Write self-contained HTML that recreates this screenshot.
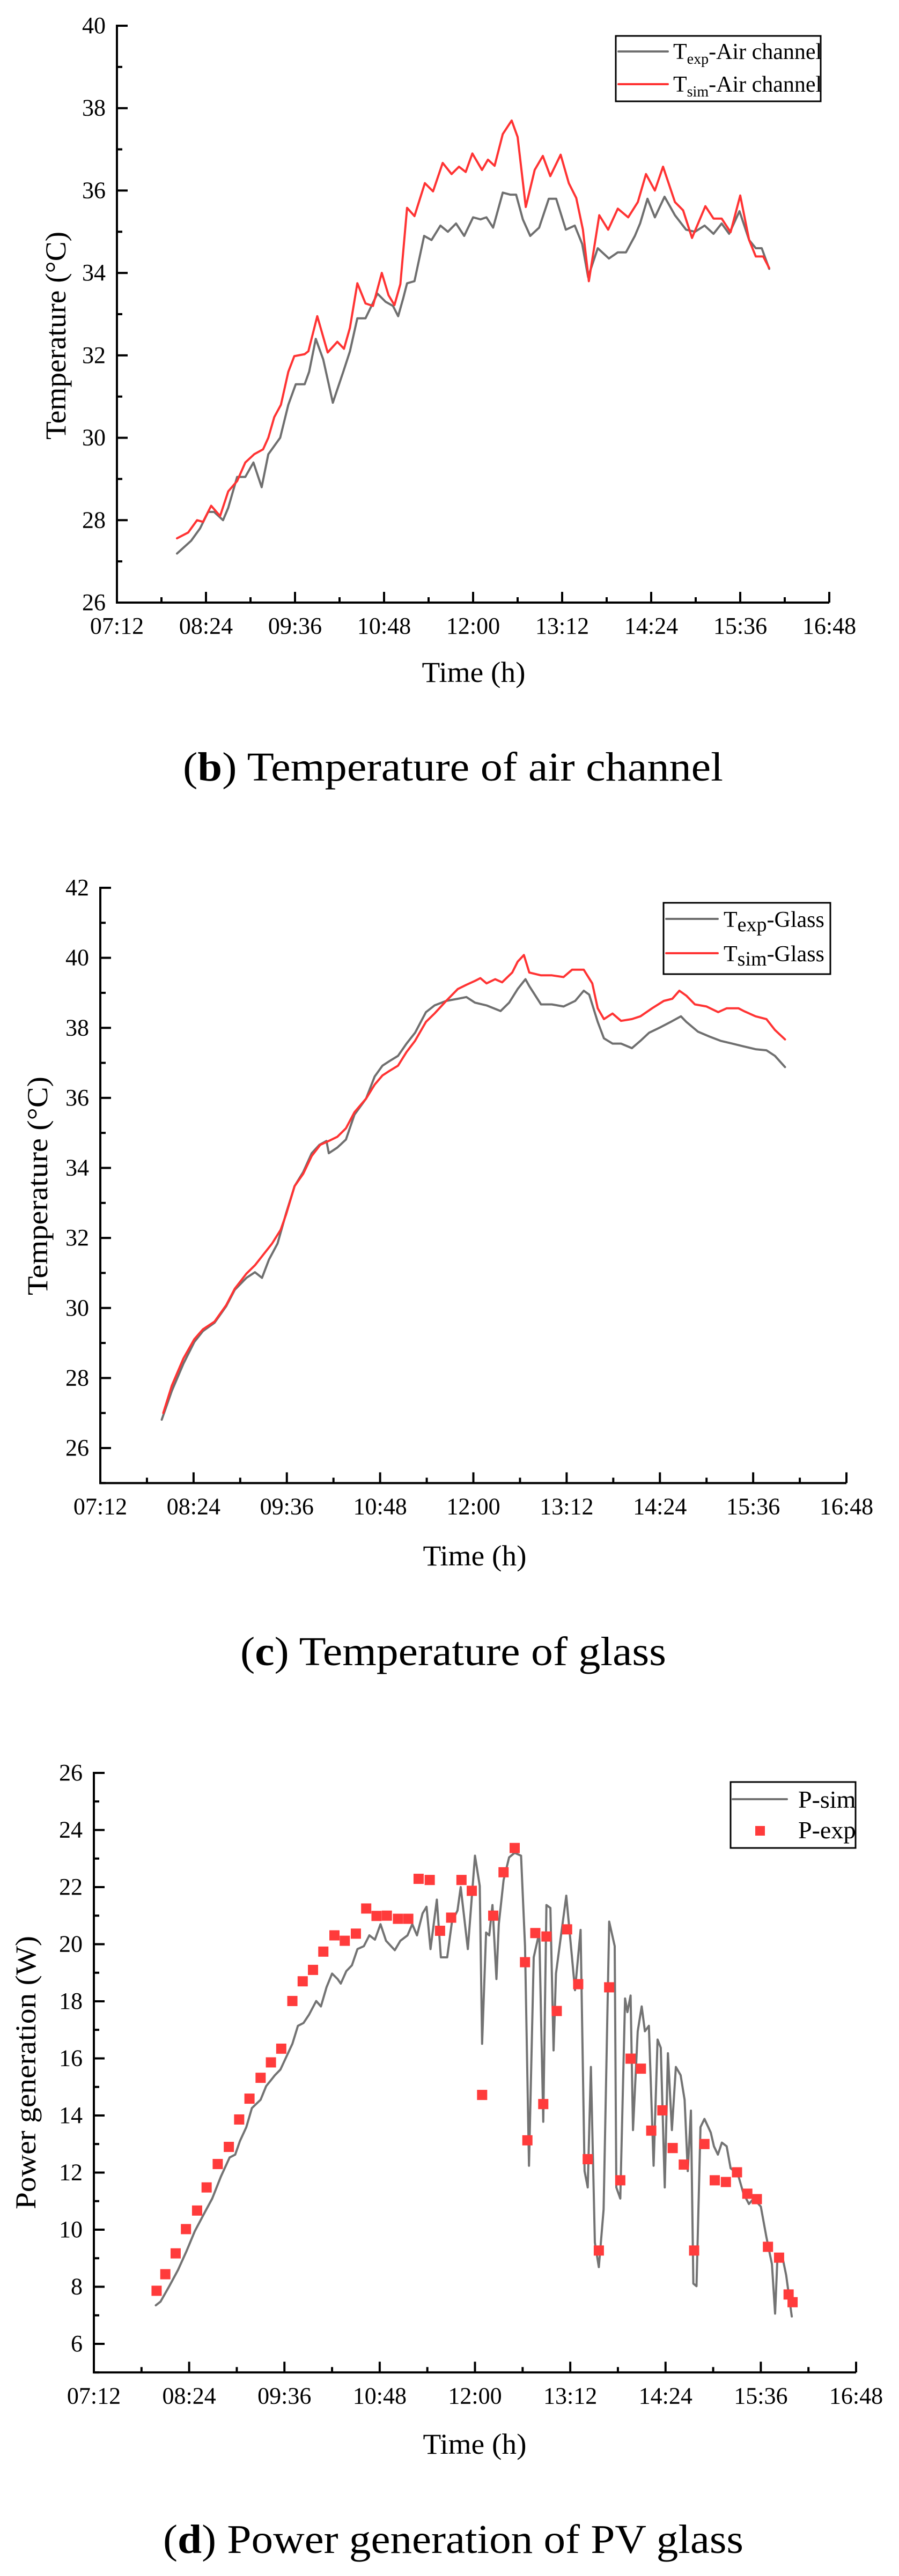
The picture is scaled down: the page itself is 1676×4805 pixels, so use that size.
<!DOCTYPE html>
<html><head><meta charset="utf-8"><style>
html,body{margin:0;padding:0;background:#fff;}
svg{display:block;font-family:"Liberation Serif","Times New Roman",serif;}
</style></head><body>
<svg id="fig" xmlns="http://www.w3.org/2000/svg" width="1676" height="4805" viewBox="0 0 1676 4805">
<rect width="1676" height="4805" fill="#fff"/>
</svg>
<script>
// ---- Chart (b) air channel ----
const airTimes = [8.01,8.20,8.32,8.43,8.51,8.63,8.70,8.82,8.93,9.04,9.15,9.24,9.40,9.51,9.61,9.73,9.79,9.88,9.98,10.11,10.25,10.34,10.44,10.55,10.71,10.82,10.92,10.99,11.06,11.11,11.21,11.34,11.44,11.56,11.66,11.77,11.88,12.00,12.10,12.18,12.27,12.40,12.50,12.58,12.67,12.77,12.89,13.02,13.12,13.25,13.37,13.47,13.55,13.68,13.83,13.95,14.06,14.18,14.25,14.35,14.45,14.58,14.72,14.87,14.99,15.12,15.24,15.35,15.45,15.59,15.72,15.81,15.89,15.99];
const airExp = [27.19,27.5,27.8,28.2,28.2,28.0,28.3,29.05,29.05,29.4,28.8,29.6,30.0,30.8,31.3,31.3,31.6,32.4,31.9,30.85,31.6,32.1,32.9,32.9,33.5,33.3,33.2,32.95,33.4,33.75,33.8,34.9,34.8,35.15,35.0,35.2,34.9,35.35,35.3,35.35,35.1,35.95,35.9,35.9,35.3,34.9,35.1,35.8,35.8,35.05,35.15,34.7,33.9,34.6,34.35,34.5,34.5,34.9,35.2,35.8,35.35,35.85,35.4,35.05,35.0,35.15,34.95,35.2,34.95,35.5,34.8,34.6,34.6,34.1];
const airSimTimes = [8.01,8.16,8.28,8.36,8.47,8.59,8.70,8.82,8.93,9.05,9.17,9.24,9.32,9.41,9.51,9.59,9.73,9.78,9.90,10.04,10.17,10.26,10.34,10.44,10.55,10.65,10.77,10.86,10.94,11.02,11.11,11.21,11.35,11.46,11.59,11.71,11.81,11.90,11.99,12.12,12.20,12.29,12.40,12.52,12.60,12.71,12.83,12.94,13.04,13.18,13.29,13.39,13.48,13.56,13.70,13.82,13.95,14.09,14.22,14.33,14.45,14.56,14.72,14.83,14.95,15.13,15.24,15.35,15.47,15.60,15.72,15.81,15.91,15.99];
const airSim = [27.56,27.7,28.0,27.96,28.35,28.1,28.7,28.95,29.4,29.6,29.72,30.0,30.5,30.8,31.6,31.98,32.03,32.1,32.95,32.07,32.33,32.16,32.67,33.75,33.26,33.2,34.0,33.46,33.22,33.73,35.58,35.38,36.18,35.98,36.67,36.4,36.58,36.45,36.9,36.5,36.75,36.6,37.37,37.7,37.3,35.6,36.5,36.84,36.35,36.87,36.18,35.82,35.05,33.8,35.4,35.05,35.56,35.35,35.72,36.4,36.0,36.58,35.72,35.52,34.85,35.62,35.32,35.32,34.99,35.88,34.8,34.4,34.4,34.12];

// ---- Chart (c) glass ----
const glassExpTimes = [7.99,8.12,8.27,8.41,8.52,8.67,8.82,8.93,9.08,9.19,9.28,9.37,9.48,9.59,9.70,9.81,9.92,10.02,10.11,10.14,10.25,10.36,10.47,10.62,10.73,10.83,10.92,11.03,11.14,11.25,11.39,11.50,11.65,11.80,11.91,12.02,12.17,12.35,12.46,12.57,12.67,12.72,12.87,13.01,13.16,13.31,13.42,13.49,13.60,13.68,13.79,13.90,14.04,14.15,14.26,14.41,14.54,14.67,14.74,14.89,15.04,15.18,15.33,15.48,15.63,15.77,15.88,16.01];
const glassExp = [26.81,27.63,28.41,29.03,29.34,29.58,30.05,30.52,30.86,31.02,30.86,31.38,31.84,32.70,33.48,33.88,34.42,34.66,34.77,34.42,34.58,34.81,35.52,35.98,36.61,36.92,37.05,37.20,37.55,37.86,38.45,38.64,38.77,38.83,38.88,38.72,38.64,38.48,38.72,39.11,39.39,39.19,38.67,38.67,38.61,38.77,39.06,38.95,38.17,37.70,37.55,37.55,37.42,37.63,37.86,38.02,38.17,38.33,38.17,37.89,37.75,37.63,37.55,37.47,37.39,37.36,37.20,36.88];
const glassSimTimes = [8.01,8.12,8.27,8.41,8.52,8.67,8.82,8.93,9.08,9.19,9.30,9.41,9.52,9.59,9.70,9.81,9.92,10.03,10.14,10.25,10.36,10.47,10.62,10.73,10.83,10.92,11.03,11.14,11.25,11.39,11.50,11.65,11.80,11.91,12.02,12.09,12.17,12.28,12.37,12.50,12.57,12.65,12.72,12.87,13.01,13.16,13.27,13.42,13.53,13.60,13.68,13.79,13.90,14.04,14.15,14.30,14.45,14.56,14.65,14.74,14.85,15.00,15.15,15.26,15.41,15.48,15.63,15.77,15.88,16.01];
const glassSim = [27.0,27.78,28.56,29.11,29.39,29.61,30.08,30.55,30.98,31.22,31.53,31.84,32.23,32.67,33.48,33.83,34.34,34.66,34.77,34.89,35.13,35.59,35.98,36.38,36.64,36.77,36.92,37.31,37.63,38.17,38.41,38.77,39.11,39.23,39.34,39.42,39.27,39.39,39.30,39.58,39.89,40.08,39.58,39.50,39.50,39.45,39.66,39.66,39.27,38.56,38.25,38.41,38.20,38.25,38.33,38.56,38.77,38.83,39.06,38.92,38.67,38.61,38.45,38.56,38.56,38.48,38.33,38.25,37.94,37.67];

// ---- Chart (d) power ----
const powSimTimes = [7.98,8.04,8.15,8.26,8.37,8.47,8.58,8.69,8.80,8.91,8.98,9.04,9.12,9.19,9.30,9.37,9.48,9.55,9.63,9.70,9.77,9.84,9.91,10.00,10.06,10.13,10.20,10.27,10.31,10.38,10.45,10.52,10.60,10.67,10.74,10.81,10.88,10.99,11.06,11.15,11.21,11.27,11.34,11.39,11.44,11.52,11.57,11.65,11.71,11.78,11.82,11.87,11.91,12.00,12.06,12.09,12.14,12.18,12.22,12.27,12.30,12.36,12.43,12.50,12.58,12.63,12.68,12.74,12.81,12.86,12.90,12.95,12.99,13.02,13.15,13.26,13.33,13.38,13.42,13.46,13.51,13.56,13.62,13.69,13.76,13.78,13.83,13.89,13.92,13.96,13.99,14.05,14.10,14.14,14.19,14.25,14.30,14.34,14.39,14.43,14.48,14.53,14.59,14.64,14.68,14.72,14.75,14.79,14.84,14.89,14.97,15.01,15.06,15.11,15.17,15.22,15.31,15.38,15.45,15.51,15.60,15.67,15.74,15.78,15.81,15.87,15.92,15.99];
const powSim = [7.35,7.48,8.02,8.59,9.27,9.94,10.52,11.09,11.86,12.53,12.63,13.11,13.59,14.26,14.55,15.03,15.41,15.61,16.09,16.51,17.14,17.24,17.53,18.01,17.82,18.49,18.97,18.78,18.62,19.06,19.26,19.83,19.93,20.31,20.16,20.70,20.12,19.79,20.12,20.31,20.70,20.31,21.08,21.31,19.83,21.56,19.54,19.54,20.79,21.18,22.00,20.79,19.83,23.10,22.04,16.51,20.41,20.31,21.37,18.78,20.70,22.24,23.04,23.20,23.10,19.93,12.24,19.54,20.41,13.78,21.37,21.27,16.28,18.97,21.70,18.39,20.50,12.05,11.48,15.70,9.55,8.69,10.71,20.79,19.93,11.48,11.09,18.10,17.62,18.20,13.49,16.95,17.82,16.95,17.14,12.24,16.66,16.37,11.48,16.18,13.49,15.70,15.41,14.55,12.05,14.17,8.11,8.02,13.59,13.88,13.40,12.92,12.63,13.05,12.92,12.15,11.96,11.28,10.90,11.09,10.81,9.75,8.79,7.06,9.08,9.08,8.40,6.96];
const powExpTimes = [7.99,8.10,8.23,8.36,8.50,8.62,8.76,8.90,9.03,9.16,9.30,9.43,9.56,9.70,9.83,9.96,10.09,10.23,10.36,10.50,10.63,10.76,10.89,11.03,11.16,11.29,11.43,11.56,11.70,11.83,11.96,12.09,12.23,12.36,12.50,12.63,12.66,12.76,12.86,12.90,13.03,13.16,13.30,13.42,13.56,13.69,13.83,13.96,14.09,14.22,14.36,14.49,14.63,14.76,14.89,15.02,15.16,15.30,15.43,15.55,15.69,15.83,15.95,16.00];
const powExp = [7.86,8.44,9.17,10.02,10.67,11.48,12.30,12.90,13.86,14.59,15.32,15.86,16.34,18.01,18.70,19.10,19.74,20.31,20.12,20.37,21.25,20.99,21.00,20.89,20.89,22.29,22.25,20.47,20.93,22.25,21.87,14.72,21.00,22.52,23.37,19.37,13.13,20.39,14.40,20.27,17.66,20.52,18.60,12.47,9.27,18.49,11.73,15.99,15.64,13.47,14.18,12.86,12.28,9.27,13.0,11.73,11.67,12.01,11.26,11.07,9.40,9.02,7.73,7.46];

const xTickLabels = ["07:12","08:24","09:36","10:48","12:00","13:12","14:24","15:36","16:48"];
const airYTicks = [26,28,30,32,34,36,38,40];
const glassYTicks = [26,28,30,32,34,36,38,40,42];
const powYTicks = [6,8,10,12,14,16,18,20,22,24,26];

const NS = "http://www.w3.org/2000/svg";
const svg = document.getElementById('fig');
function mk(tag, attrs, parent){
  const e = document.createElementNS(NS, tag);
  for (const k in attrs) e.setAttribute(k, attrs[k]);
  (parent||svg).appendChild(e);
  return e;
}

function buildChart(cfg){
  const g = mk('g', {});
  
  
  const X = t => cfg.x0 + (t - 7.2) * (cfg.x1 - cfg.x0) / 9.6;
  const Y = v => cfg.yA + (v - cfg.vA) * (cfg.yB - cfg.yA) / (cfg.vB - cfg.vA);
  const yBottom = Y(cfg.vMin);
  const ax = mk('path', {d:`M${cfg.x0} ${Y(cfg.vMax)-2}V${yBottom}H${cfg.x1}`, fill:'none', stroke:'#000', 'stroke-width':4});
  
  
  g.appendChild(ax);
  for (let i = 0; i <= 16; i++){
    const t = 7.2 + i * 0.6;
    const major = i % 2 === 0;
    const tk = mk('line', {x1:X(t), x2:X(t), y1:yBottom, y2:yBottom-(major?20:10), stroke:'#000', 'stroke-width':4}, g);
    
    
    if (major){
      const lb = mk('text', {x:X(t), y:yBottom+58, 'font-size':44, 'text-anchor':'middle'}, g);
      lb.textContent = xTickLabels[i/2];
      
      
    }
  }
  for (let v = cfg.vMin; v <= cfg.vMax; v++){
    const major = cfg.yTicks.indexOf(v) >= 0;
    const tk = mk('line', {x1:cfg.x0, x2:cfg.x0+(major?20:10), y1:Y(v), y2:Y(v), stroke:'#000', 'stroke-width':4}, g);
    
    
  }
  cfg.yTicks.forEach(v => {
    const lb = mk('text', {x:cfg.x0-21, y:Y(v)+14, 'font-size':44, 'text-anchor':'end'}, g);
    lb.textContent = String(v);
    
    
  });
  const xt = mk('text', {x:cfg.xTitle[0], y:cfg.xTitle[1], 'font-size':54, 'text-anchor':'middle', textLength:193, lengthAdjust:'spacingAndGlyphs'}, g);
  xt.textContent = 'Time (h)';
  
  
  const yt = mk('text', {x:0, y:0, 'font-size':54, 'text-anchor':'middle', textLength:cfg.yTitleLen, lengthAdjust:'spacingAndGlyphs', transform:`translate(${cfg.yTitle[0]},${cfg.yTitle[1]}) rotate(-90)`}, g);
  yt.textContent = cfg.yTitleText;
  
  
  const cp = mk('text', {x:cfg.cap[0], y:cfg.cap[1], 'font-size':76, textLength:cfg.cap[2], lengthAdjust:'spacingAndGlyphs'}, g);
  cp.innerHTML = '(<tspan font-weight="bold">' + cfg.capLetter + '</tspan>) ' + cfg.capText;
  
  
  return {g, X, Y};
}

function drawLine(ch, ts, vs, color, name){
  const pts = ts.map((t,i) => ch.X(t).toFixed(1) + ',' + ch.Y(vs[i]).toFixed(1)).join(' ');
  const pl = mk('polyline', {points:pts, fill:'none', stroke:color, 'stroke-width':4, 'stroke-linejoin':'round', 'stroke-linecap':'round'}, ch.g);
  
  
}

function legend(ch, box, items, fs){
  const lg = mk('g', {}, ch.g);
  
  
  mk('rect', {x:box[0], y:box[1], width:box[2], height:box[3], fill:'#fff', stroke:'#000', 'stroke-width':3}, lg);
  items.forEach(it => {
    const e = mk('g', {}, lg);
    
    
    if (it.square){
      mk('rect', {x:it.mx-9, y:it.my-9, width:18, height:18, fill:it.color}, e);
    } else {
      mk('line', {x1:it.l[0], x2:it.l[1], y1:it.my, y2:it.my, stroke:it.color, 'stroke-width':4, 'stroke-linecap':'round'}, e);
    }
    const tx = mk('text', {x:it.tx, y:it.ty, 'font-size':fs||42}, e);
    tx.innerHTML = it.html;
  });
}

// Chart b
const chB = buildChart({name:'chart-air-channel', x0:218, x1:1546, yA:1124, vA:26, yB:48, vB:40, vMin:26, vMax:40, yTicks:airYTicks,
  xTitle:[883,1272], yTitle:[122,626], yTitleLen:388, yTitleText:'Temperature (°C)',
  cap:[341,1456,1007], capLetter:'b', capText:'Temperature of air channel'});
drawLine(chB, airTimes, airExp, '#6f6f6f', 'series-texp-air');
drawLine(chB, airSimTimes, airSim, '#ff3333', 'series-tsim-air');
legend(chB, [1148,67,382,122], [
  {l:[1153,1245], my:96, color:'#6f6f6f', tx:1255, ty:110, html:'T<tspan font-size="28" dy="9">exp</tspan><tspan dy="-9">-Air channel</tspan>'},
  {l:[1153,1245], my:157, color:'#ff3333', tx:1255, ty:171, html:'T<tspan font-size="28" dy="9">sim</tspan><tspan dy="-9">-Air channel</tspan>'}
]);

// Chart c
const chC = buildChart({name:'chart-glass', x0:187, x1:1578, yA:2701, vA:26, yB:1656, vB:42, vMin:25, vMax:42, yTicks:glassYTicks,
  xTitle:[885,2920], yTitle:[88,2212], yTitleLen:408, yTitleText:'Temperature (°C)',
  cap:[448,3106,794], capLetter:'c', capText:'Temperature of glass'});
drawLine(chC, glassExpTimes, glassExp, '#6f6f6f', 'series-texp-glass');
drawLine(chC, glassSimTimes, glassSim, '#ff3333', 'series-tsim-glass');
legend(chC, [1237,1684,311,133], [
  {l:[1242,1338], my:1714, color:'#6f6f6f', tx:1349, ty:1729, html:'T<tspan font-size="38" dy="8">exp</tspan><tspan dy="-8">-Glass</tspan>'},
  {l:[1242,1338], my:1778, color:'#ff3333', tx:1349, ty:1793, html:'T<tspan font-size="38" dy="8">sim</tspan><tspan dy="-8">-Glass</tspan>'}
]);

// Chart d
const chD = buildChart({name:'chart-power', x0:175, x1:1596, yA:4372, vA:6, yB:3307, vB:26, vMin:5, vMax:26, yTicks:powYTicks,
  xTitle:[885,4577], yTitle:[66,3866], yTitleLen:510, yTitleText:'Power generation (W)',
  cap:[304,4762,1082], capLetter:'d', capText:'Power generation of PV glass'});
drawLine(chD, powSimTimes, powSim, '#737373', 'series-p-sim');
powExpTimes.forEach((t,i) => {
  const r = mk('rect', {x:chD.X(t)-9.5, y:chD.Y(powExp[i])-9.5, width:19, height:19, fill:'#ff3b3b'}, chD.g);
  
  
});
legend(chD, [1362,3324,233,123], [
  {l:[1366,1467], my:3356, color:'#737373', tx:1488, ty:3372, html:'P-sim'},
  {square:true, mx:1417, my:3415, color:'#ff3b3b', tx:1488, ty:3429, html:'P-exp'}
], 46);
</script>
</body></html>
